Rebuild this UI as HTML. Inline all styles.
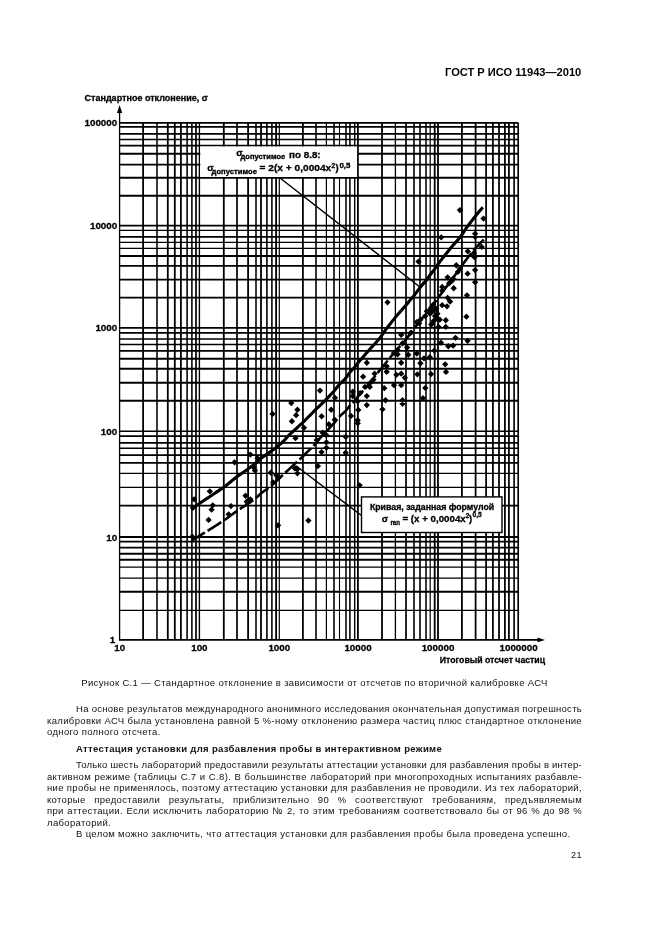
<!DOCTYPE html>
<html><head><meta charset="utf-8"><style>
html,body{margin:0;padding:0;background:#fff;}
body{width:661px;height:936px;position:relative;overflow:hidden;font-family:"Liberation Sans",sans-serif;color:#111;}
svg{position:absolute;left:0;top:0;}
svg text{font-family:"Liberation Sans",sans-serif;fill:#000;stroke:#000;stroke-width:0.3px;}
.hdr{position:absolute;right:79.4px;top:65.1px;font-weight:bold;font-size:11.1px;line-height:14px;color:#000;white-space:nowrap;}
.ln{position:absolute;left:47px;width:535px;font-size:9.5px;letter-spacing:0.34px;line-height:12px;white-space:nowrap;text-align:justify;text-align-last:justify;}
.ln.i{left:76px;width:506px;}
.ln.l{text-align:left;text-align-last:left;}
.b{font-weight:bold;}
.cap{position:absolute;left:47px;width:535px;text-align:center;font-size:9.5px;letter-spacing:0.34px;line-height:12px;white-space:nowrap;}
.pg{position:absolute;right:79px;font-size:9.2px;letter-spacing:0.3px;line-height:12px;}
div{will-change:transform;}
</style></head><body>
<div class="hdr">ГОСТ Р ИСО 11943—2010</div>
<svg width="661" height="936" viewBox="0 0 661 936">
<path d="M143.10 122.8V639.8" stroke="#000" stroke-width="1.80"/>
<path d="M157.00 122.8V639.8" stroke="#000" stroke-width="1.55"/>
<path d="M167.80 122.8V639.8" stroke="#000" stroke-width="1.80"/>
<path d="M174.80 122.8V639.8" stroke="#000" stroke-width="1.80"/>
<path d="M180.90 122.8V639.8" stroke="#000" stroke-width="1.80"/>
<path d="M187.10 122.8V639.8" stroke="#000" stroke-width="1.55"/>
<path d="M191.90 122.8V639.8" stroke="#000" stroke-width="1.55"/>
<path d="M196.00 122.8V639.8" stroke="#000" stroke-width="1.70"/>
<path d="M199.40 122.8V639.8" stroke="#000" stroke-width="1.40"/>
<path d="M223.80 122.8V639.8" stroke="#000" stroke-width="1.80"/>
<path d="M237.00 122.8V639.8" stroke="#000" stroke-width="1.70"/>
<path d="M248.10 122.8V639.8" stroke="#000" stroke-width="1.80"/>
<path d="M256.00 122.8V639.8" stroke="#000" stroke-width="1.55"/>
<path d="M261.00 122.8V639.8" stroke="#000" stroke-width="1.80"/>
<path d="M266.90 122.8V639.8" stroke="#000" stroke-width="1.60"/>
<path d="M271.90 122.8V639.8" stroke="#000" stroke-width="1.55"/>
<path d="M276.10 122.8V639.8" stroke="#000" stroke-width="1.80"/>
<path d="M279.30 122.8V639.8" stroke="#000" stroke-width="1.20"/>
<path d="M302.90 122.8V639.8" stroke="#000" stroke-width="1.80"/>
<path d="M316.00 122.8V639.8" stroke="#000" stroke-width="1.60"/>
<path d="M326.40 122.8V639.8" stroke="#000" stroke-width="1.20"/>
<path d="M334.00 122.8V639.8" stroke="#000" stroke-width="1.60"/>
<path d="M339.50 122.8V639.8" stroke="#000" stroke-width="1.10"/>
<path d="M346.00 122.8V639.8" stroke="#000" stroke-width="1.55"/>
<path d="M349.90 122.8V639.8" stroke="#000" stroke-width="1.55"/>
<path d="M354.70 122.8V639.8" stroke="#000" stroke-width="1.40"/>
<path d="M357.90 122.8V639.8" stroke="#000" stroke-width="1.80"/>
<path d="M382.00 122.8V639.8" stroke="#000" stroke-width="1.80"/>
<path d="M395.40 122.8V639.8" stroke="#000" stroke-width="1.30"/>
<path d="M406.00 122.8V639.8" stroke="#000" stroke-width="1.70"/>
<path d="M414.00 122.8V639.8" stroke="#000" stroke-width="1.60"/>
<path d="M420.00 122.8V639.8" stroke="#000" stroke-width="1.60"/>
<path d="M426.00 122.8V639.8" stroke="#000" stroke-width="1.55"/>
<path d="M430.20 122.8V639.8" stroke="#000" stroke-width="1.20"/>
<path d="M434.70 122.8V639.8" stroke="#000" stroke-width="1.80"/>
<path d="M438.00 122.8V639.8" stroke="#000" stroke-width="1.80"/>
<path d="M461.90 122.8V639.8" stroke="#000" stroke-width="1.80"/>
<path d="M475.60 122.8V639.8" stroke="#000" stroke-width="1.75"/>
<path d="M486.10 122.8V639.8" stroke="#000" stroke-width="1.75"/>
<path d="M492.90 122.8V639.8" stroke="#000" stroke-width="1.75"/>
<path d="M499.00 122.8V639.8" stroke="#000" stroke-width="1.75"/>
<path d="M504.90 122.8V639.8" stroke="#000" stroke-width="1.75"/>
<path d="M508.90 122.8V639.8" stroke="#000" stroke-width="1.75"/>
<path d="M514.10 122.8V639.8" stroke="#000" stroke-width="1.65"/>
<path d="M518.20 122.8V639.8" stroke="#000" stroke-width="1.65"/>
<path d="M119.5 610.40H518.2" stroke="#000" stroke-width="1.40"/>
<path d="M119.5 591.70H518.2" stroke="#000" stroke-width="1.95"/>
<path d="M119.5 578.10H518.2" stroke="#000" stroke-width="1.40"/>
<path d="M119.5 567.10H518.2" stroke="#000" stroke-width="1.40"/>
<path d="M119.5 559.70H518.2" stroke="#000" stroke-width="1.95"/>
<path d="M119.5 553.70H518.2" stroke="#000" stroke-width="1.95"/>
<path d="M119.5 547.60H518.2" stroke="#000" stroke-width="1.95"/>
<path d="M119.5 541.50H518.2" stroke="#000" stroke-width="1.75"/>
<path d="M119.5 537.00H518.2" stroke="#000" stroke-width="1.80"/>
<path d="M119.5 505.60H518.2" stroke="#000" stroke-width="1.70"/>
<path d="M119.5 487.40H518.2" stroke="#000" stroke-width="1.40"/>
<path d="M119.5 473.40H518.2" stroke="#000" stroke-width="1.40"/>
<path d="M119.5 462.90H518.2" stroke="#000" stroke-width="1.75"/>
<path d="M119.5 455.00H518.2" stroke="#000" stroke-width="1.75"/>
<path d="M119.5 448.30H518.2" stroke="#000" stroke-width="1.40"/>
<path d="M119.5 442.80H518.2" stroke="#000" stroke-width="1.75"/>
<path d="M119.5 436.00H518.2" stroke="#000" stroke-width="1.75"/>
<path d="M119.5 431.20H518.2" stroke="#000" stroke-width="1.35"/>
<path d="M119.5 400.80H518.2" stroke="#000" stroke-width="1.90"/>
<path d="M119.5 382.80H518.2" stroke="#000" stroke-width="1.90"/>
<path d="M119.5 368.70H518.2" stroke="#000" stroke-width="1.90"/>
<path d="M119.5 358.70H518.2" stroke="#000" stroke-width="1.90"/>
<path d="M119.5 350.80H518.2" stroke="#000" stroke-width="1.70"/>
<path d="M119.5 344.50H518.2" stroke="#000" stroke-width="1.70"/>
<path d="M119.5 339.00H518.2" stroke="#000" stroke-width="1.70"/>
<path d="M119.5 332.90H518.2" stroke="#000" stroke-width="1.70"/>
<path d="M119.5 327.80H518.2" stroke="#000" stroke-width="1.70"/>
<path d="M119.5 297.70H518.2" stroke="#000" stroke-width="1.80"/>
<path d="M119.5 279.70H518.2" stroke="#000" stroke-width="1.80"/>
<path d="M119.5 265.90H518.2" stroke="#000" stroke-width="1.90"/>
<path d="M119.5 256.00H518.2" stroke="#000" stroke-width="1.80"/>
<path d="M119.5 248.30H518.2" stroke="#000" stroke-width="1.35"/>
<path d="M119.5 242.30H518.2" stroke="#000" stroke-width="1.35"/>
<path d="M119.5 236.90H518.2" stroke="#000" stroke-width="1.70"/>
<path d="M119.5 230.40H518.2" stroke="#000" stroke-width="1.35"/>
<path d="M119.5 225.70H518.2" stroke="#000" stroke-width="1.80"/>
<path d="M119.5 195.80H518.2" stroke="#000" stroke-width="1.90"/>
<path d="M119.5 177.80H518.2" stroke="#000" stroke-width="1.90"/>
<path d="M119.5 164.70H518.2" stroke="#000" stroke-width="1.70"/>
<path d="M119.5 153.70H518.2" stroke="#000" stroke-width="1.90"/>
<path d="M119.5 145.60H518.2" stroke="#000" stroke-width="1.70"/>
<path d="M119.5 139.50H518.2" stroke="#000" stroke-width="1.70"/>
<path d="M119.5 133.80H518.2" stroke="#000" stroke-width="1.70"/>
<path d="M119.5 126.90H518.2" stroke="#000" stroke-width="1.70"/>
<path d="M119.5 122.80H518.2" stroke="#000" stroke-width="1.70"/>
<path d="M119.6 112V640.5" stroke="#000" stroke-width="1.3" fill="none"/>
<path d="M119 639.8H538" stroke="#000" stroke-width="1.8" fill="none"/>
<path d="M119.6 105L117 113H122.2Z" fill="#000"/>
<path d="M545 639.9L537.5 637.6V642.2Z" fill="#000"/>
<rect x="200.3" y="146.5" width="156.8" height="30.5" fill="#fff"/>
<rect x="361.5" y="496.9" width="140.5" height="35.6" fill="#fff" stroke="#000" stroke-width="1.4"/>
<path d="M192.60 508.18 L194.41 506.97 L196.23 505.75 L198.04 504.44 L199.85 503.17 L201.67 501.97 L203.48 500.78 L205.30 499.58 L207.11 498.38 L208.92 497.18 L210.74 495.98 L212.55 494.77 L214.37 493.56 L216.18 492.34 L217.99 491.12 L219.81 489.90 L221.62 488.68 L223.43 487.45 L225.25 486.12 L227.06 484.67 L228.88 483.21 L230.69 481.74 L232.50 480.27 L234.32 478.80 L236.13 477.31 L237.94 475.94 L239.76 474.68 L241.57 473.41 L243.38 472.15 L245.20 470.91 L247.01 469.67 L248.83 468.37 L250.64 467.00 L252.45 465.63 L254.27 464.24 L256.08 462.83 L257.89 461.09 L259.71 459.40 L261.52 457.84 L263.34 456.62 L265.15 455.39 L266.96 454.15 L268.78 452.87 L270.59 451.58 L272.41 450.26 L274.22 448.89 L276.03 447.50 L277.85 445.95 L279.66 444.42 L281.47 443.00 L283.29 441.43 L285.10 439.41 L286.92 437.37 L288.73 435.32 L290.54 433.66 L292.36 432.01 L294.17 430.34 L295.98 428.73 L297.80 427.09 L299.61 425.45 L301.43 423.78 L303.24 422.09 L305.05 420.30 L306.87 418.50 L308.68 416.68 L310.49 414.84 L312.31 412.99 L314.12 411.11 L315.94 409.22 L317.75 407.51 L319.56 405.79 L321.38 404.06 L323.19 402.32 L325.00 400.56 L326.82 398.74 L328.63 396.82 L330.45 394.89 L332.26 392.94 L334.07 390.97 L335.89 388.73 L337.70 386.48 L339.51 384.22 L341.33 382.59 L343.14 380.83 L344.96 379.01 L346.77 376.83 L348.58 374.17 L350.40 371.70 L352.21 369.76 L354.02 367.84 L355.84 365.67 L357.65 363.27 L359.47 361.12 L361.28 358.99 L363.09 356.90 L364.91 354.83 L366.72 352.75 L368.53 350.67 L370.35 348.65 L372.16 346.67 L373.98 344.68 L375.79 342.68 L377.60 340.66 L379.42 338.63 L381.23 336.20 L383.04 333.56 L384.86 330.94 L386.67 328.41 L388.49 325.98 L390.30 323.69 L392.11 321.40 L393.93 319.11 L395.74 316.85 L397.55 314.78 L399.37 312.71 L401.18 310.64 L403.00 308.56 L404.81 306.47 L406.62 304.37 L408.44 302.22 L410.25 300.07 L412.06 297.91 L413.88 295.73 L415.69 293.34 L417.50 290.94 L419.32 288.53 L421.13 286.34 L422.95 284.30 L424.76 282.25 L426.57 280.05 L428.39 277.43 L430.20 274.69 L432.02 272.43 L433.83 270.16 L435.64 267.64 L437.46 264.88 L439.27 262.46 L441.08 260.14 L442.90 257.81 L444.71 255.48 L446.53 253.22 L448.34 250.99 L450.15 248.77 L451.97 246.57 L453.78 244.51 L455.59 242.46 L457.41 240.38 L459.22 238.24 L461.04 236.10 L462.85 233.44 L464.66 230.47 L466.48 227.74 L468.29 225.33 L470.10 222.95 L471.92 220.62 L473.73 218.28 L475.55 215.95 L477.36 213.78 L479.17 211.61 L480.99 209.44 L482.80 207.28" stroke="#000" stroke-width="3.1" fill="none"/>
<path d="M483.80 239.53 L481.98 241.43 L480.15 243.31 L478.33 245.17 L476.50 247.04 L474.68 249.09 L472.86 251.32 L471.03 253.56 L469.21 255.82 L467.39 258.21 L465.56 260.60 L463.74 263.00 L461.92 265.41 L460.09 267.95 L458.27 270.52 L456.44 273.10 L454.62 275.68 L452.80 278.27 L450.97 280.79 L449.15 283.19 L447.32 285.61 L445.50 288.02 L443.68 290.44 L441.85 292.86 L440.03 295.28 L438.21 297.69 L436.38 300.28 L434.56 302.84 L432.74 304.99 L430.91 307.13 L429.09 309.53 L427.26 312.10 L425.44 314.52 L423.62 316.60 L421.79 318.68 L419.97 320.76 L418.14 323.18 L416.32 325.60 L414.50 328.01 L412.67 330.33 L410.85 332.77 L409.03 335.21 L407.20 337.80 L405.38 340.35 L403.56 342.48 L401.73 344.45 L399.91 346.41 L398.08 348.35 L396.26 350.27 L394.44 352.30 L392.61 354.52 L390.79 356.76 L388.97 358.99 L387.14 361.23 L385.32 363.50 L383.49 365.77 L381.67 368.00 L379.85 370.11 L378.02 372.42 L376.20 374.73 L374.38 377.03 L372.55 379.33 L370.73 381.63 L368.90 383.92 L367.08 386.01 L365.26 388.11 L363.43 390.22 L361.61 392.33 L359.78 394.44 L357.96 396.54 L356.14 398.93 L354.31 401.20 L352.49 402.96 L350.67 404.71 L348.84 406.85 L347.02 409.26 L345.20 411.34 L343.37 413.00 L341.55 414.65 L339.72 416.29 L337.90 418.49 L336.08 420.75 L334.25 422.99 L332.43 425.00 L330.61 426.96 L328.78 428.91 L326.96 430.84 L325.13 432.70 L323.31 434.56 L321.49 436.41 L319.66 438.53 L317.84 440.84 L316.01 443.12 L314.19 445.19 L312.37 446.99 L310.54 448.77 L308.72 450.58 L306.90 452.42 L305.07 454.24 L303.25 456.05 L301.43 457.76 L299.60 459.44 L297.78 461.10 L295.95 462.75 L294.13 464.37 L292.31 466.12 L290.48 467.86 L288.66 469.58 L286.84 471.28 L285.01 472.97 L283.19 474.64 L281.36 476.33 L279.54 478.03 L277.72 479.88 L275.89 481.71 L274.07 483.28 L272.25 484.84 L270.42 486.33 L268.60 487.79 L266.77 489.22 L264.95 490.51 L263.13 491.80 L261.30 493.07 L259.48 494.75 L257.65 496.50 L255.83 498.20 L254.01 499.53 L252.18 500.85 L250.36 502.16 L248.54 503.46 L246.71 504.66 L244.89 505.84 L243.07 507.00 L241.24 508.17 L239.42 509.33 L237.59 510.48 L235.77 511.77 L233.95 513.12 L232.12 514.47 L230.30 515.80 L228.48 517.13 L226.65 518.45 L224.83 519.76 L223.00 521.01 L221.18 522.20 L219.36 523.39 L217.53 524.57 L215.71 525.73 L213.88 526.90 L212.06 528.05 L210.24 529.20 L208.41 530.34 L206.59 531.48 L204.77 532.61 L202.94 533.73 L201.12 534.85 L199.30 535.96 L197.47 537.15 L195.65 538.26 L193.82 539.30 L192.00 540.32" stroke="#000" stroke-width="2.6" fill="none" stroke-dasharray="16.1 3.34" stroke-dashoffset="0.8"/>
<path d="M279.7 177.7L420.2 287.2L423.6 281.6" stroke="#000" stroke-width="1.45" fill="none"/>
<path d="M295.5 465.5L361.5 515.5" stroke="#000" stroke-width="1.45" fill="none"/>
<path d="M194.1 496.2l3.15 3.15l-3.15 3.15l-3.15 -3.15zM192.9 504.7l3.15 3.15l-3.15 3.15l-3.15 -3.15zM209.8 488.2l3.15 3.15l-3.15 3.15l-3.15 -3.15zM212.8 502.2l3.15 3.15l-3.15 3.15l-3.15 -3.15zM211.6 506.5l3.15 3.15l-3.15 3.15l-3.15 -3.15zM208.6 516.8l3.15 3.15l-3.15 3.15l-3.15 -3.15zM231.0 502.9l3.15 3.15l-3.15 3.15l-3.15 -3.15zM228.6 511.2l3.15 3.15l-3.15 3.15l-3.15 -3.15zM234.6 459.2l3.15 3.15l-3.15 3.15l-3.15 -3.15zM250.4 451.4l3.15 3.15l-3.15 3.15l-3.15 -3.15zM254.0 464.7l3.15 3.15l-3.15 3.15l-3.15 -3.15zM255.0 467.4l3.15 3.15l-3.15 3.15l-3.15 -3.15zM245.5 492.6l3.15 3.15l-3.15 3.15l-3.15 -3.15zM250.4 496.2l3.15 3.15l-3.15 3.15l-3.15 -3.15zM246.7 498.6l3.15 3.15l-3.15 3.15l-3.15 -3.15zM192.3 533.6l3.15 3.15l-3.15 3.15l-3.15 -3.15zM257.6 455.1l3.15 3.15l-3.15 3.15l-3.15 -3.15zM272.5 410.8l3.15 3.15l-3.15 3.15l-3.15 -3.15zM291.3 399.9l3.15 3.15l-3.15 3.15l-3.15 -3.15zM297.4 406.6l3.15 3.15l-3.15 3.15l-3.15 -3.15zM296.1 412.0l3.15 3.15l-3.15 3.15l-3.15 -3.15zM291.9 418.1l3.15 3.15l-3.15 3.15l-3.15 -3.15zM321.6 413.2l3.15 3.15l-3.15 3.15l-3.15 -3.15zM331.2 406.6l3.15 3.15l-3.15 3.15l-3.15 -3.15zM304.0 424.7l3.15 3.15l-3.15 3.15l-3.15 -3.15zM295.5 435.0l3.15 3.15l-3.15 3.15l-3.15 -3.15zM328.8 421.1l3.15 3.15l-3.15 3.15l-3.15 -3.15zM322.8 429.6l3.15 3.15l-3.15 3.15l-3.15 -3.15zM316.7 436.9l3.15 3.15l-3.15 3.15l-3.15 -3.15zM326.4 439.2l3.15 3.15l-3.15 3.15l-3.15 -3.15zM326.4 444.7l3.15 3.15l-3.15 3.15l-3.15 -3.15zM321.6 448.9l3.15 3.15l-3.15 3.15l-3.15 -3.15zM317.9 462.9l3.15 3.15l-3.15 3.15l-3.15 -3.15zM297.4 465.9l3.15 3.15l-3.15 3.15l-3.15 -3.15zM297.4 470.1l3.15 3.15l-3.15 3.15l-3.15 -3.15zM270.7 469.5l3.15 3.15l-3.15 3.15l-3.15 -3.15zM276.2 471.9l3.15 3.15l-3.15 3.15l-3.15 -3.15zM278.6 474.4l3.15 3.15l-3.15 3.15l-3.15 -3.15zM273.2 479.2l3.15 3.15l-3.15 3.15l-3.15 -3.15zM366.8 359.6l3.15 3.15l-3.15 3.15l-3.15 -3.15zM363.1 373.5l3.15 3.15l-3.15 3.15l-3.15 -3.15zM374.6 370.5l3.15 3.15l-3.15 3.15l-3.15 -3.15zM373.4 376.5l3.15 3.15l-3.15 3.15l-3.15 -3.15zM369.8 380.2l3.15 3.15l-3.15 3.15l-3.15 -3.15zM365.0 383.8l3.15 3.15l-3.15 3.15l-3.15 -3.15zM369.8 383.8l3.15 3.15l-3.15 3.15l-3.15 -3.15zM366.8 392.9l3.15 3.15l-3.15 3.15l-3.15 -3.15zM366.8 401.9l3.15 3.15l-3.15 3.15l-3.15 -3.15zM360.1 389.9l3.15 3.15l-3.15 3.15l-3.15 -3.15zM352.8 388.6l3.15 3.15l-3.15 3.15l-3.15 -3.15zM352.8 392.9l3.15 3.15l-3.15 3.15l-3.15 -3.15zM357.7 398.2l3.15 3.15l-3.15 3.15l-3.15 -3.15zM358.3 406.8l3.15 3.15l-3.15 3.15l-3.15 -3.15zM351.0 412.8l3.15 3.15l-3.15 3.15l-3.15 -3.15zM357.7 417.1l3.15 3.15l-3.15 3.15l-3.15 -3.15zM357.7 420.1l3.15 3.15l-3.15 3.15l-3.15 -3.15zM334.7 416.5l3.15 3.15l-3.15 3.15l-3.15 -3.15zM335.0 394.7l3.15 3.15l-3.15 3.15l-3.15 -3.15zM384.3 385.0l3.15 3.15l-3.15 3.15l-3.15 -3.15zM385.5 397.1l3.15 3.15l-3.15 3.15l-3.15 -3.15zM382.5 406.2l3.15 3.15l-3.15 3.15l-3.15 -3.15zM386.7 363.2l3.15 3.15l-3.15 3.15l-3.15 -3.15zM386.7 368.7l3.15 3.15l-3.15 3.15l-3.15 -3.15zM394.0 349.9l3.15 3.15l-3.15 3.15l-3.15 -3.15zM397.6 351.1l3.15 3.15l-3.15 3.15l-3.15 -3.15zM401.2 359.6l3.15 3.15l-3.15 3.15l-3.15 -3.15zM396.4 371.7l3.15 3.15l-3.15 3.15l-3.15 -3.15zM401.2 370.5l3.15 3.15l-3.15 3.15l-3.15 -3.15zM394.0 382.0l3.15 3.15l-3.15 3.15l-3.15 -3.15zM401.2 382.0l3.15 3.15l-3.15 3.15l-3.15 -3.15zM402.5 397.1l3.15 3.15l-3.15 3.15l-3.15 -3.15zM402.5 400.7l3.15 3.15l-3.15 3.15l-3.15 -3.15zM402.5 340.2l3.15 3.15l-3.15 3.15l-3.15 -3.15zM401.2 331.7l3.15 3.15l-3.15 3.15l-3.15 -3.15zM447.6 274.2l3.15 3.15l-3.15 3.15l-3.15 -3.15zM453.1 275.4l3.15 3.15l-3.15 3.15l-3.15 -3.15zM467.6 270.5l3.15 3.15l-3.15 3.15l-3.15 -3.15zM453.7 285.1l3.15 3.15l-3.15 3.15l-3.15 -3.15zM442.2 283.8l3.15 3.15l-3.15 3.15l-3.15 -3.15zM442.2 287.5l3.15 3.15l-3.15 3.15l-3.15 -3.15zM467.0 292.2l3.15 3.15l-3.15 3.15l-3.15 -3.15zM447.6 294.7l3.15 3.15l-3.15 3.15l-3.15 -3.15zM450.1 298.4l3.15 3.15l-3.15 3.15l-3.15 -3.15zM447.0 303.2l3.15 3.15l-3.15 3.15l-3.15 -3.15zM442.2 302.0l3.15 3.15l-3.15 3.15l-3.15 -3.15zM436.1 305.6l3.15 3.15l-3.15 3.15l-3.15 -3.15zM432.5 308.0l3.15 3.15l-3.15 3.15l-3.15 -3.15zM437.4 310.5l3.15 3.15l-3.15 3.15l-3.15 -3.15zM430.1 310.5l3.15 3.15l-3.15 3.15l-3.15 -3.15zM466.4 313.5l3.15 3.15l-3.15 3.15l-3.15 -3.15zM445.8 317.1l3.15 3.15l-3.15 3.15l-3.15 -3.15zM439.8 316.5l3.15 3.15l-3.15 3.15l-3.15 -3.15zM433.7 317.7l3.15 3.15l-3.15 3.15l-3.15 -3.15zM420.4 316.5l3.15 3.15l-3.15 3.15l-3.15 -3.15zM419.2 320.2l3.15 3.15l-3.15 3.15l-3.15 -3.15zM431.3 321.4l3.15 3.15l-3.15 3.15l-3.15 -3.15zM445.8 323.8l3.15 3.15l-3.15 3.15l-3.15 -3.15zM438.6 323.8l3.15 3.15l-3.15 3.15l-3.15 -3.15zM455.5 334.7l3.15 3.15l-3.15 3.15l-3.15 -3.15zM467.6 337.7l3.15 3.15l-3.15 3.15l-3.15 -3.15zM448.3 343.1l3.15 3.15l-3.15 3.15l-3.15 -3.15zM453.1 342.5l3.15 3.15l-3.15 3.15l-3.15 -3.15zM441.0 339.5l3.15 3.15l-3.15 3.15l-3.15 -3.15zM407.1 344.4l3.15 3.15l-3.15 3.15l-3.15 -3.15zM408.3 351.6l3.15 3.15l-3.15 3.15l-3.15 -3.15zM416.8 350.4l3.15 3.15l-3.15 3.15l-3.15 -3.15zM424.0 355.2l3.15 3.15l-3.15 3.15l-3.15 -3.15zM420.4 360.1l3.15 3.15l-3.15 3.15l-3.15 -3.15zM445.2 361.2l3.15 3.15l-3.15 3.15l-3.15 -3.15zM410.7 329.8l3.15 3.15l-3.15 3.15l-3.15 -3.15zM459.9 206.9l3.15 3.15l-3.15 3.15l-3.15 -3.15zM483.5 215.4l3.15 3.15l-3.15 3.15l-3.15 -3.15zM475.1 230.5l3.15 3.15l-3.15 3.15l-3.15 -3.15zM475.1 233.7l3.15 3.15l-3.15 3.15l-3.15 -3.15zM441.2 234.2l3.15 3.15l-3.15 3.15l-3.15 -3.15zM481.7 243.8l3.15 3.15l-3.15 3.15l-3.15 -3.15zM467.8 248.2l3.15 3.15l-3.15 3.15l-3.15 -3.15zM473.9 249.9l3.15 3.15l-3.15 3.15l-3.15 -3.15zM474.5 254.2l3.15 3.15l-3.15 3.15l-3.15 -3.15zM456.3 262.1l3.15 3.15l-3.15 3.15l-3.15 -3.15zM459.9 265.7l3.15 3.15l-3.15 3.15l-3.15 -3.15zM475.1 266.9l3.15 3.15l-3.15 3.15l-3.15 -3.15zM475.1 279.0l3.15 3.15l-3.15 3.15l-3.15 -3.15zM418.5 258.4l3.15 3.15l-3.15 3.15l-3.15 -3.15zM320.0 387.4l3.15 3.15l-3.15 3.15l-3.15 -3.15zM387.5 299.2l3.15 3.15l-3.15 3.15l-3.15 -3.15zM426.8 308.2l3.15 3.15l-3.15 3.15l-3.15 -3.15zM446.0 368.8l3.15 3.15l-3.15 3.15l-3.15 -3.15zM434.3 347.4l3.15 3.15l-3.15 3.15l-3.15 -3.15zM433.2 301.5l3.15 3.15l-3.15 3.15l-3.15 -3.15zM326.3 432.0l3.15 3.15l-3.15 3.15l-3.15 -3.15zM294.8 465.2l3.15 3.15l-3.15 3.15l-3.15 -3.15zM359.6 482.2l3.15 3.15l-3.15 3.15l-3.15 -3.15zM345.7 433.8l3.15 3.15l-3.15 3.15l-3.15 -3.15zM345.7 449.6l3.15 3.15l-3.15 3.15l-3.15 -3.15zM278.1 522.2l3.15 3.15l-3.15 3.15l-3.15 -3.15zM308.4 517.4l3.15 3.15l-3.15 3.15l-3.15 -3.15zM425.3 312.9l3.15 3.15l-3.15 3.15l-3.15 -3.15zM431.3 304.4l3.15 3.15l-3.15 3.15l-3.15 -3.15zM435.0 312.9l3.15 3.15l-3.15 3.15l-3.15 -3.15zM416.8 318.9l3.15 3.15l-3.15 3.15l-3.15 -3.15zM451.9 277.8l3.15 3.15l-3.15 3.15l-3.15 -3.15zM458.0 268.7l3.15 3.15l-3.15 3.15l-3.15 -3.15zM397.4 346.8l3.15 3.15l-3.15 3.15l-3.15 -3.15zM449.2 280.1l3.15 3.15l-3.15 3.15l-3.15 -3.15zM431.1 370.9l3.15 3.15l-3.15 3.15l-3.15 -3.15zM436.4 315.4l3.15 3.15l-3.15 3.15l-3.15 -3.15zM404.9 374.6l3.15 3.15l-3.15 3.15l-3.15 -3.15zM417.4 371.2l3.15 3.15l-3.15 3.15l-3.15 -3.15zM425.3 384.8l3.15 3.15l-3.15 3.15l-3.15 -3.15zM423.0 395.0l3.15 3.15l-3.15 3.15l-3.15 -3.15zM429.8 354.1l3.15 3.15l-3.15 3.15l-3.15 -3.15z" fill="#000"/>
<text x="117.2" y="126.0" font-size="9.8" font-weight="bold" text-anchor="end">100000</text>
<text x="117.2" y="228.9" font-size="9.8" font-weight="bold" text-anchor="end">10000</text>
<text x="117.2" y="330.6" font-size="9.8" font-weight="bold" text-anchor="end">1000</text>
<text x="117.2" y="435.2" font-size="9.8" font-weight="bold" text-anchor="end">100</text>
<text x="117.2" y="540.5" font-size="9.8" font-weight="bold" text-anchor="end">10</text>
<text x="115.2" y="643.0" font-size="9.8" font-weight="bold" text-anchor="end">1</text>
<text x="119.8" y="650.8" font-size="9.8" font-weight="bold" text-anchor="middle">10</text>
<text x="199.4" y="650.8" font-size="9.8" font-weight="bold" text-anchor="middle">100</text>
<text x="279.3" y="650.8" font-size="9.8" font-weight="bold" text-anchor="middle">1000</text>
<text x="358.0" y="650.8" font-size="9.8" font-weight="bold" text-anchor="middle">10000</text>
<text x="438.0" y="650.8" font-size="9.8" font-weight="bold" text-anchor="middle">100000</text>
<text x="518.6" y="650.8" font-size="9.8" font-weight="bold" text-anchor="middle">1000000</text>
<text x="84.5" y="101.3" font-size="9.4" font-weight="bold" textLength="123.5" lengthAdjust="spacingAndGlyphs">Стандартное отклонение, σ</text>
<text x="439.8" y="662.7" font-size="9.4" font-weight="bold" textLength="105.3" lengthAdjust="spacingAndGlyphs">Итоговый отсчет частиц</text>
<text x="236.3" y="156.3" font-size="9.4" font-weight="bold">σ</text>
<text x="240.5" y="159.3" font-size="7" font-weight="bold" textLength="44.7" lengthAdjust="spacingAndGlyphs">допустимое</text>
<text x="289.1" y="157.5" font-size="9.0" font-weight="bold" textLength="31.5" lengthAdjust="spacingAndGlyphs">по 8.8:</text>
<text x="207.3" y="170.6" font-size="9.4" font-weight="bold">σ</text>
<text x="211.6" y="173.5" font-size="7" font-weight="bold" textLength="45.3" lengthAdjust="spacingAndGlyphs">допустимое</text>
<text x="259.6" y="170.8" font-size="9.4" font-weight="bold" textLength="71.6" lengthAdjust="spacingAndGlyphs">= 2(x + 0,0004x</text>
<text x="331.4" y="168.3" font-size="6.5" font-weight="bold">2</text>
<text x="335.6" y="170.8" font-size="9.4" font-weight="bold">)</text>
<text x="339.4" y="167.9" font-size="6.5" font-weight="bold" textLength="11" lengthAdjust="spacingAndGlyphs">0,5</text>
<text x="369.9" y="509.6" font-size="9.4" font-weight="bold" textLength="124.3" lengthAdjust="spacingAndGlyphs">Кривая, заданная формулой</text>
<text x="381.7" y="522.2" font-size="9.4" font-weight="bold">σ</text>
<text x="390.5" y="525.4" font-size="6.5" font-weight="bold" textLength="9.5" lengthAdjust="spacingAndGlyphs">ran</text>
<text x="402.5" y="522.2" font-size="9.4" font-weight="bold" textLength="63.2" lengthAdjust="spacingAndGlyphs">= (x + 0,0004x</text>
<text x="465.7" y="517.6" font-size="6.5" font-weight="bold">2</text>
<text x="469" y="522.2" font-size="9.4" font-weight="bold">)</text>
<text x="472.5" y="517.2" font-size="6.5" font-weight="bold" textLength="9.2" lengthAdjust="spacingAndGlyphs">0,5</text>
</svg>
<div class="cap" style="top:676.91px">Рисунок С.1 — Стандартное отклонение в зависимости от отсчетов по вторичной калибровке АСЧ</div>
<div class="ln i" style="top:702.81px;letter-spacing:0.274px">На основе результатов международного анонимного исследования окончательная допустимая погрешность</div>
<div class="ln" style="top:714.81px">калибровки АСЧ была установлена равной 5 %-ному отклонению размера частиц плюс стандартное отклонение</div>
<div class="ln l" style="top:725.91px">одного полного отсчета.</div>
<div class="ln i l b" style="top:742.71px">Аттестация установки для разбавления пробы в интерактивном режиме</div>
<div class="ln i" style="top:758.71px;letter-spacing:0.232px">Только шесть лабораторий предоставили результаты аттестации установки для разбавления пробы в интер-</div>
<div class="ln" style="top:770.81px">активном режиме (таблицы С.7 и С.8). В большинстве лабораторий при многопроходных испытаниях разбавле-</div>
<div class="ln" style="top:781.61px">ние пробы не применялось, поэтому аттестацию установки для разбавления не проводили. Из тех лабораторий,</div>
<div class="ln" style="top:793.91px">которые предоставили результаты, приблизительно 90 % соответствуют требованиям, предъявляемым</div>
<div class="ln" style="top:804.71px">при аттестации. Если исключить лабораторию № 2, то этим требованиям соответствовало бы от 96 % до 98 %</div>
<div class="ln l" style="top:816.91px">лабораторий.</div>
<div class="ln i l" style="top:827.71px">В целом можно заключить, что аттестация установки для разбавления пробы была проведена успешно.</div>
<div class="pg" style="top:848.7px">21</div>
</body></html>
